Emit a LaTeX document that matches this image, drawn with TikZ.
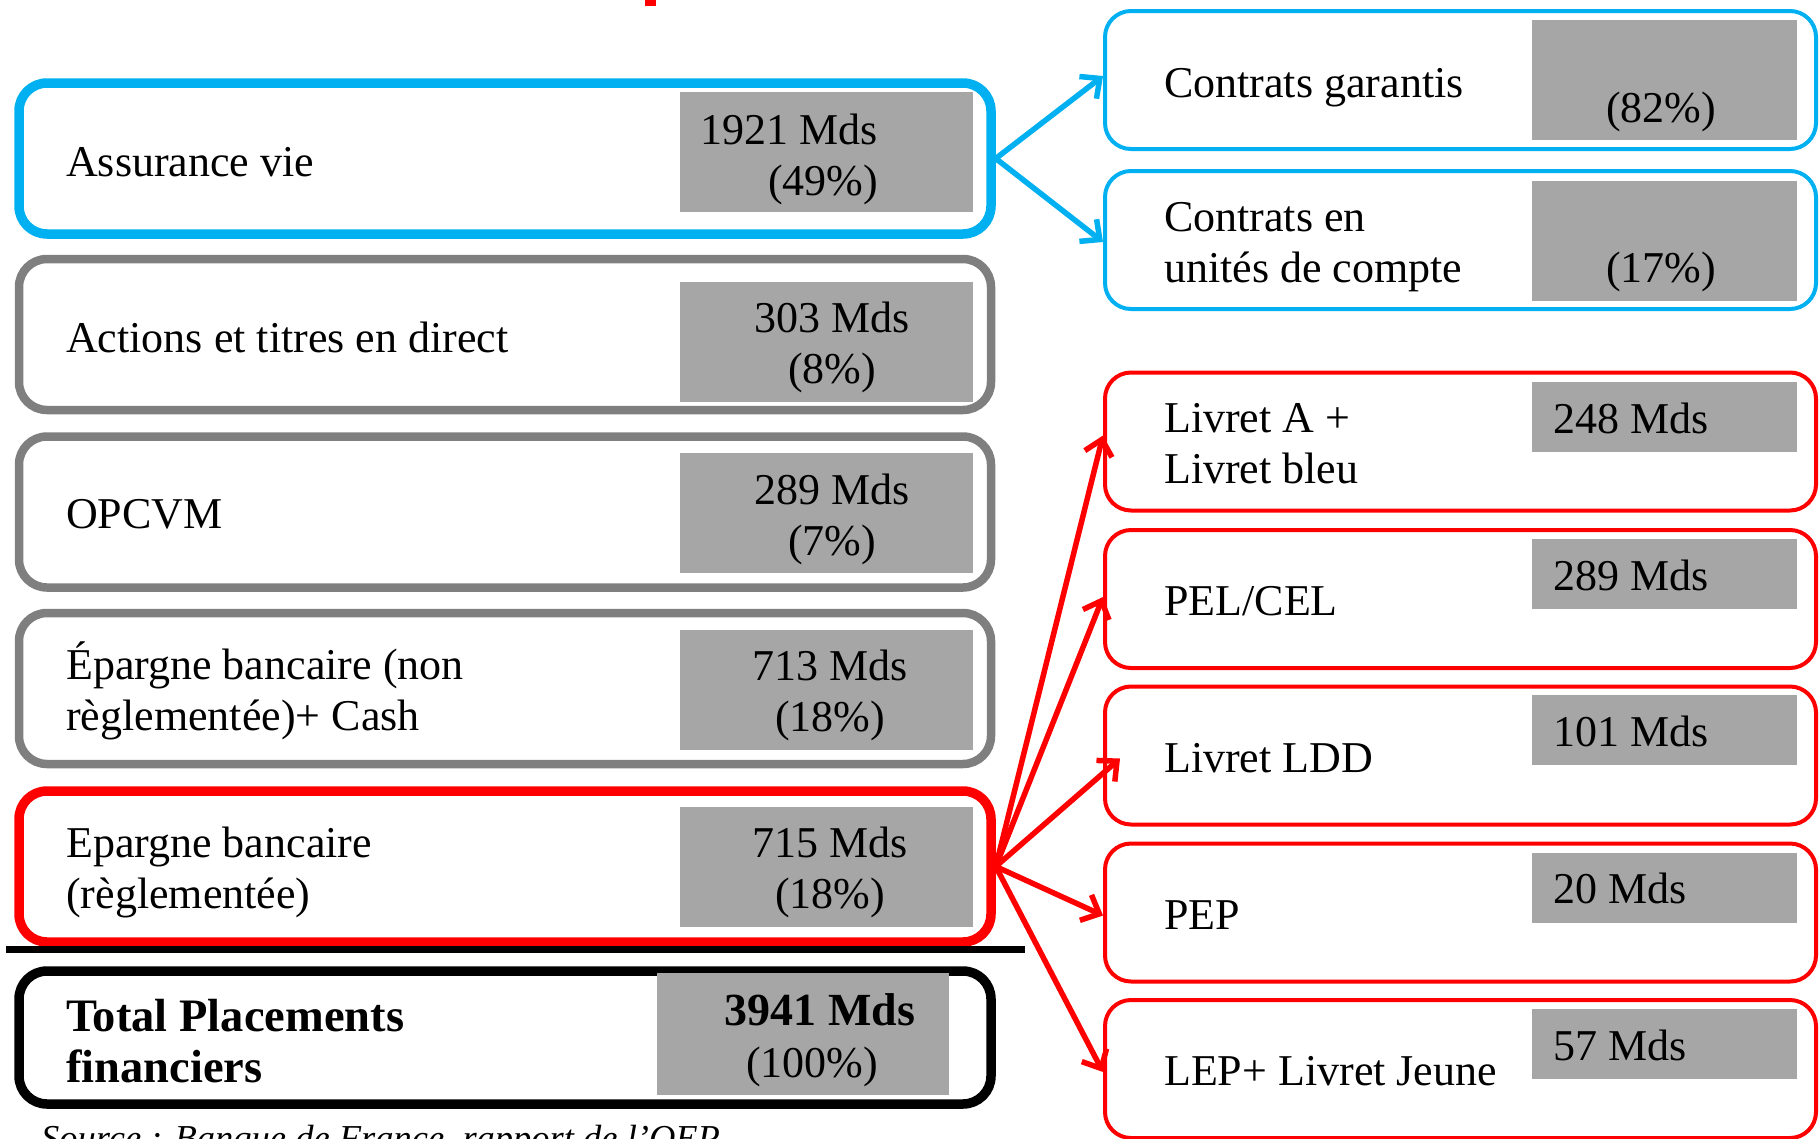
\documentclass[tikz,border=0pt]{standalone}
\usepackage{fontspec}
\setmainfont{Liberation Serif}
\usetikzlibrary{arrows.meta}
\definecolor{skyblue}{HTML}{00B0F0}
\definecolor{boxgray}{HTML}{A6A6A6}
\definecolor{edgegray}{HTML}{7F7F7F}
\definecolor{alertred}{HTML}{FF0000}
\begin{document}
\begin{tikzpicture}[x=1pt,y=-1pt,
  bigbox/.style={draw, rounded corners=28pt, line width=9.5pt, minimum width=972pt, minimum height=151pt, inner sep=0pt},
  smallbox/.style={draw, rounded corners=26pt, line width=4pt, minimum width=711pt, minimum height=138pt, inner sep=0pt},
  valbox/.style={fill=boxgray, inner sep=0pt},
  leftval/.style={valbox, minimum width=293pt, minimum height=120pt},
  rightval/.style={valbox, minimum width=265pt, minimum height=70pt},
  txt/.style={anchor=base west, inner sep=0pt, align=left, font=\fontsize{44}{51}\selectfont},
  num/.style={anchor=base, inner sep=0pt, align=center, font=\fontsize{44}{51}\selectfont},
  link/.style={line width=5.5pt, -{Straight Barb[length=15pt,width=28pt]}}
]
\clip (0,0) rectangle (1820,1138);
% cut-off title
\fill[alertred] (645,0) rectangle (656,6);

% left column
\node[bigbox, skyblue] (assur) at (505,158.5) {};
\node[bigbox, edgegray, line width=8.5pt] (act) at (505,334.5) {};
\node[bigbox, edgegray, line width=8.5pt] (opc) at (505,512) {};
\node[bigbox, edgegray, line width=8.5pt] (epn) at (505,688.5) {};
\node[bigbox, alertred] (epr) at (505,866.5) {};
\draw[line width=7pt] (6,949) -- (1025,949);
\node[bigbox, black, minimum height=133pt] (tot) at (505,1037.5) {};

\node[leftval] (assur-v) at (826.5,152) {};
\node[leftval] (act-v) at (826.5,342) {};
\node[leftval] (opc-v) at (826.5,513) {};
\node[leftval] (epn-v) at (826.5,690) {};
\node[leftval] (epr-v) at (826.5,866.5) {};
\node[leftval, minimum width=292pt, minimum height=122pt] (tot-v) at (803,1034) {};

\node[txt] (assur-l) at (66,176) {Assurance vie};
\node[txt] (act-l) at (66,352) {Actions et titres en direct};
\node[txt] (opc-l) at (66,528) {OPCVM};
\node[txt] (epn-l) at (66,730) {Épargne bancaire (non\\règlementée)+ Cash};
\node[txt] (epr-l) at (66,908) {Epargne bancaire\\(règlementée)};
\node[txt, font=\bfseries\fontsize{46.5}{51}\selectfont] (tot-l) at (66,1082) {Total Placements\\financiers};

\node[txt] (assur-n) at (700,195) {1921 Mds\\\hspace*{68pt}(49\%)};
\node[num] (act-n) at (832,383) {303 Mds\\(8\%)};
\node[num] (opc-n) at (832,555) {289 Mds\\(7\%)};
\node[num] (epn-n) at (830,731) {713 Mds\\(18\%)};
\node[num] (epr-n) at (830,908) {715 Mds\\(18\%)};
\node[num, font=\fontsize{44}{52}\selectfont] (tot-n) at (812,1077) {\hspace*{16pt}\textbf{\fontsize{46}{52}\selectfont 3941 Mds}\\(100\%)};

% right column
\node[smallbox, skyblue] (cg) at (1460.5,80) {};
\node[smallbox, skyblue] (cu) at (1460.5,240) {};
\node[smallbox, alertred] (la) at (1460.5,441.5) {};
\node[smallbox, alertred] (pel) at (1460.5,599) {};
\node[smallbox, alertred] (ldd) at (1460.5,755.5) {};
\node[smallbox, alertred] (pep) at (1460.5,912.5) {};
\node[smallbox, alertred] (lep) at (1460.5,1069) {};

\node[rightval, minimum height=120pt] (cg-v) at (1664.5,80) {};
\node[rightval, minimum height=120pt] (cu-v) at (1664.5,240.5) {};
\node[rightval] (la-v) at (1664.5,417) {};
\node[rightval] (pel-v) at (1664.5,573.5) {};
\node[rightval] (ldd-v) at (1664.5,730) {};
\node[rightval] (pep-v) at (1664.5,887.5) {};
\node[rightval] (lep-v) at (1664.5,1044) {};

\node[txt] (cg-l) at (1164,97) {Contrats garantis};
\node[txt] (cu-l) at (1164,282) {Contrats en\\unités de compte};
\node[txt] (la-l) at (1164,483) {Livret A +\\Livret bleu};
\node[txt] (pel-l) at (1164,615) {PEL/CEL};
\node[txt] (ldd-l) at (1164,772) {Livret LDD};
\node[txt] (pep-l) at (1164,929) {PEP};
\node[txt] (lep-l) at (1164,1085) {LEP+ Livret Jeune};

\node[txt] (cg-n) at (1606,122) {(82\%)};
\node[txt] (cu-n) at (1606,282) {(17\%)};
\node[txt] (la-n) at (1553,433) {248 Mds};
\node[txt] (pel-n) at (1553,590) {289 Mds};
\node[txt] (ldd-n) at (1553,746) {101 Mds};
\node[txt] (pep-n) at (1553,903) {20 Mds};
\node[txt] (lep-n) at (1553,1060) {57 Mds};

% arrows
\draw[link, skyblue] (assur.east) -- ([yshift=4pt]cg.west);
\draw[link, skyblue] (assur.east) -- ([yshift=-2pt]cu.west);
\draw[link, alertred] (epr.east) -- ([yshift=6pt]la.west);
\draw[link, alertred] (epr.east) -- ([yshift=2pt]pel.west);
\draw[link, alertred] (epr.east) -- ([xshift=17pt,yshift=-3pt]ldd.west);
\draw[link, alertred] (epr.east) -- ([yshift=-3pt]pep.west);
\draw[link, alertred] (epr.east) -- ([yshift=-3pt]lep.west);

\node[anchor=base west, inner sep=0pt, font=\itshape\fontsize{36.5}{40}\selectfont] (src) at (41,1150) {Source : Banque de France, rapport de l’OEP};
\end{tikzpicture}
\end{document}
